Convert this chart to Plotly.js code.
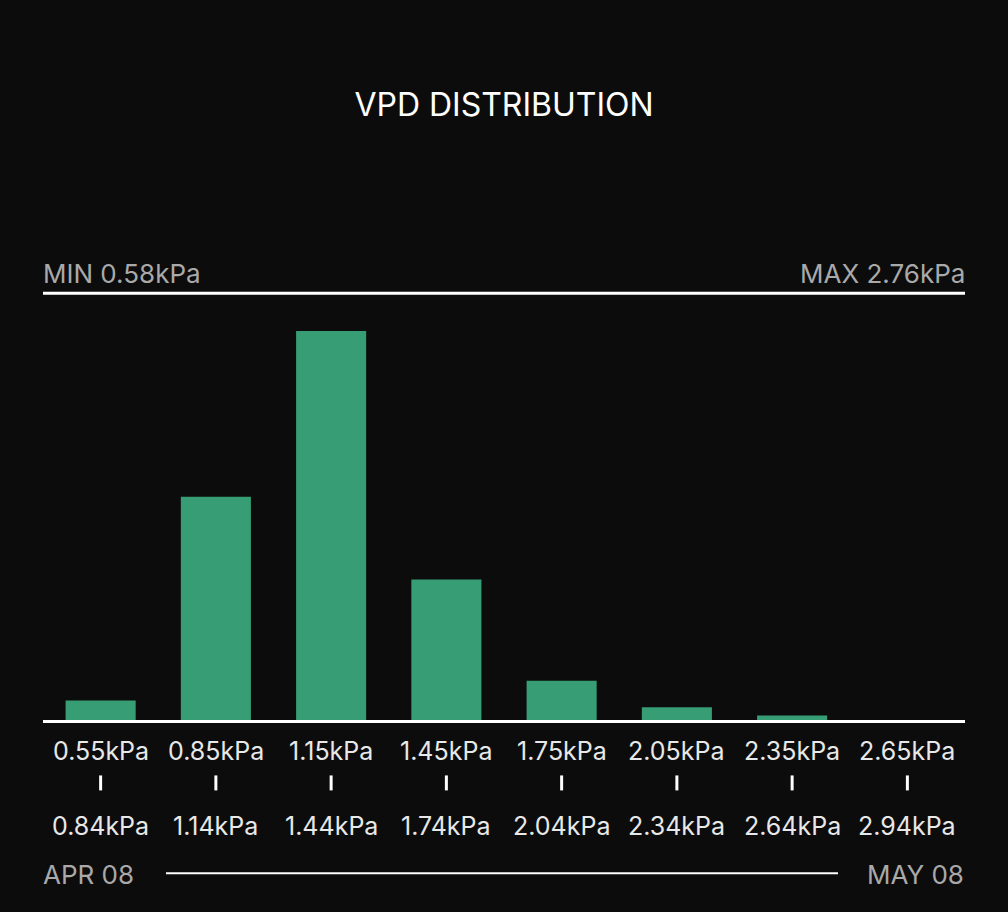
<!DOCTYPE html>
<html>
<head>
<meta charset="utf-8">
<script src="https://cdn.plot.ly/plotly-3.0.1.min.js"></script>
<style>
  html, body { margin: 0; padding: 0; background: #0c0c0c; }
  #chart { width: 1008px; height: 912px; }
</style>
</head>
<body>
<div id="chart"></div>
<script>
// ---- data ----
const binLow  = ['0.55kPa', '0.85kPa', '1.15kPa', '1.45kPa', '1.75kPa', '2.05kPa', '2.35kPa', '2.65kPa'];
const binHigh = ['0.84kPa', '1.14kPa', '1.44kPa', '1.74kPa', '2.04kPa', '2.34kPa', '2.64kPa', '2.94kPa'];
const hours   = [17, 194, 338, 122, 34, 11, 4, 0];
const chartTitle = 'VPD DISTRIBUTION';
const minLabel = 'MIN 0.58kPa';
const maxLabel = 'MAX 2.76kPa';
const startLabel = 'APR 08';
const endLabel = 'MAY 08';
const yMax = 371;

// ---- layout helpers ----
const W = 1008, H = 912;
const plotTop = 293, plotBottom = 720.5;
const plotH = plotBottom - plotTop;
const py = p => (plotBottom - p) / plotH;   // pixel row -> paper y

const FONT = 'Inter, "Noto Sans", sans-serif';
const BG = '#0c0c0c';
const GREEN = '#379d74';

const trace = {
  type: 'bar',
  x: binLow,
  y: hours,
  marker: { color: GREEN, line: { width: 0 } },
  hoverinfo: 'skip'
};

const annotations = [];
binLow.forEach((lab, i) => {
  annotations.push({
    x: lab, xref: 'x', y: py(751.5), yref: 'paper',
    text: lab, showarrow: false, xanchor: 'center', yanchor: 'middle',
    font: { family: FONT, size: 25, color: '#e8e8e8' }
  });
  annotations.push({
    x: lab, xref: 'x', y: py(826.5), yref: 'paper',
    text: binHigh[i], showarrow: false, xanchor: 'center', yanchor: 'middle',
    font: { family: FONT, size: 25, color: '#e8e8e8' }
  });
});
annotations.push(
  { x: 0, xref: 'paper', y: py(273.5), yref: 'paper', text: minLabel, showarrow: false, xshift: -2,
    xanchor: 'left', yanchor: 'middle', font: { family: FONT, size: 26, color: '#a9a9a9' } },
  { x: 1, xref: 'paper', y: py(273.5), yref: 'paper', text: maxLabel, showarrow: false, xshift: 2,
    xanchor: 'right', yanchor: 'middle', font: { family: FONT, size: 26, color: '#a9a9a9' } },
  { x: 0, xref: 'paper', y: py(875.5), yref: 'paper', text: startLabel, showarrow: false, xshift: -2,
    xanchor: 'left', yanchor: 'middle', font: { family: FONT, size: 26, color: '#a9a9a9' } },
  { x: 1, xref: 'paper', y: py(875.5), yref: 'paper', text: endLabel, showarrow: false, xshift: 1,
    xanchor: 'right', yanchor: 'middle', font: { family: FONT, size: 26, color: '#a9a9a9' } }
);

const shapes = [
  { type: 'line', xref: 'paper', yref: 'paper', x0: 0, x1: 1, y0: py(293.3), y1: py(293.3),
    line: { color: '#ffffff', width: 3 } },
  { type: 'line', xref: 'paper', yref: 'paper', x0: 0, x1: 1, y0: py(722), y1: py(722),
    line: { color: '#ffffff', width: 3 } },
  { type: 'line', xref: 'paper', yref: 'paper', x0: (166 - 43) / 922, x1: (838 - 43) / 922,
    y0: py(874), y1: py(874), line: { color: '#ffffff', width: 2 } }
];
binLow.forEach(lab => {
  shapes.push({ type: 'line', xref: 'x', yref: 'paper', x0: lab, x1: lab,
    y0: py(776), y1: py(791), line: { color: '#ffffff', width: 3 } });
});

const layout = {
  width: W, height: H,
  paper_bgcolor: BG, plot_bgcolor: BG,
  margin: { l: 43, r: 43, t: plotTop, b: H - plotBottom, pad: 0 },
  title: {
    text: chartTitle, x: 0.5, xanchor: 'center', xref: 'paper',
    y: 1 - 105 / H, yanchor: 'middle', yref: 'container',
    font: { family: FONT, size: 32, color: '#ffffff' }
  },
  showlegend: false,
  bargap: 0.392,
  xaxis: { type: 'category', showticklabels: false, showgrid: false, zeroline: false,
           showline: false, ticks: '', fixedrange: true },
  yaxis: { range: [0, yMax], visible: false, showgrid: false, zeroline: false, fixedrange: true },
  annotations: annotations,
  shapes: shapes
};

Plotly.newPlot('chart', [trace], layout, { displayModeBar: false, staticPlot: true });
</script>
</body>
</html>
